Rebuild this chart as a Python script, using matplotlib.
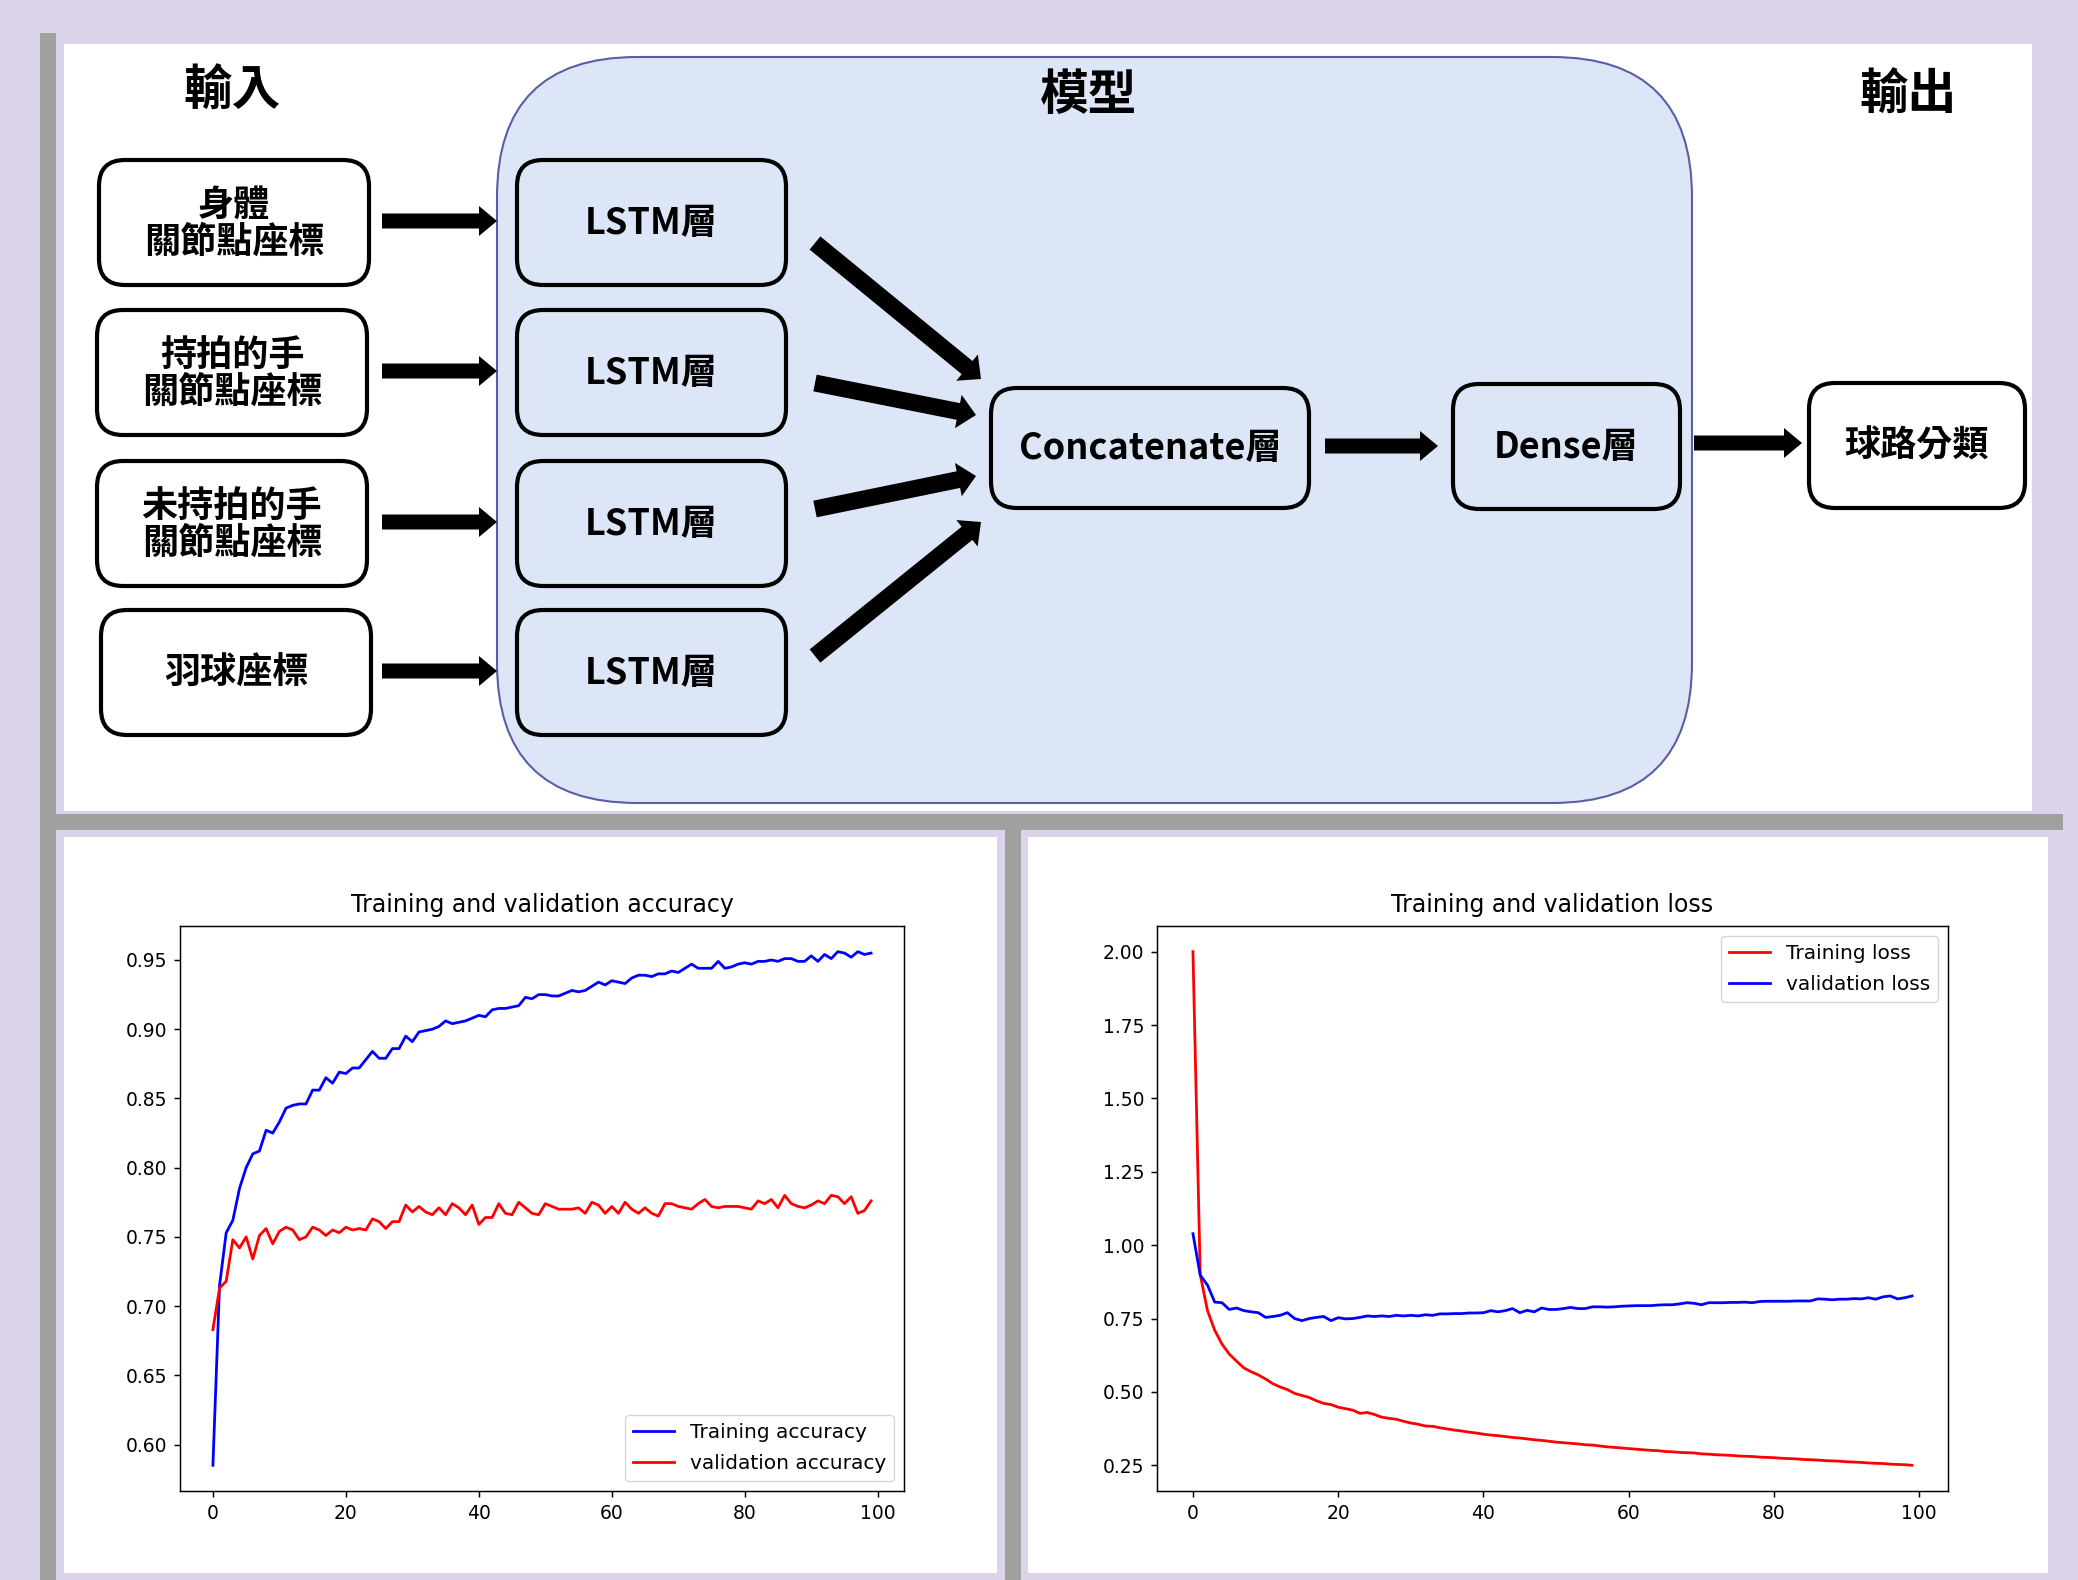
import matplotlib
matplotlib.use('Agg')
import matplotlib.pyplot as plt
from matplotlib.patches import FancyBboxPatch, Rectangle
import numpy as np

W, H = 2078, 1580
S = 1.33  # the training plots are a default matplotlib figure blown up by ~1.33

# ---- data ----
epochs = np.arange(100)

train_acc = [0.585, 0.715, 0.753, 0.762, 0.785, 0.800, 0.810, 0.812, 0.827, 0.825,
             0.833, 0.843, 0.845, 0.846, 0.846, 0.856, 0.856, 0.865, 0.861, 0.869,
             0.868, 0.872, 0.872, 0.878, 0.884, 0.879, 0.879, 0.886, 0.886, 0.895,
             0.891, 0.898, 0.899, 0.900, 0.902, 0.906, 0.904, 0.905, 0.906, 0.908,
             0.910, 0.909, 0.914, 0.915, 0.915, 0.916, 0.917, 0.923, 0.922, 0.925,
             0.925, 0.924, 0.924, 0.926, 0.928, 0.927, 0.928, 0.931, 0.934, 0.932,
             0.935, 0.934, 0.933, 0.937, 0.939, 0.939, 0.938, 0.940, 0.940, 0.942,
             0.941, 0.944, 0.947, 0.944, 0.944, 0.944, 0.949, 0.944, 0.945, 0.947,
             0.948, 0.947, 0.949, 0.949, 0.950, 0.949, 0.951, 0.951, 0.949, 0.949,
             0.953, 0.949, 0.954, 0.951, 0.956, 0.955, 0.952, 0.956, 0.954, 0.955]

val_acc = [0.683, 0.713, 0.718, 0.748, 0.742, 0.750, 0.734, 0.751, 0.756, 0.745,
           0.754, 0.757, 0.755, 0.748, 0.750, 0.757, 0.755, 0.751, 0.755, 0.753,
           0.757, 0.755, 0.756, 0.755, 0.763, 0.761, 0.756, 0.761, 0.761, 0.773,
           0.768, 0.772, 0.768, 0.766, 0.771, 0.766, 0.774, 0.771, 0.766, 0.773,
           0.759, 0.764, 0.764, 0.774, 0.767, 0.766, 0.775, 0.771, 0.767, 0.766,
           0.774, 0.772, 0.770, 0.770, 0.770, 0.771, 0.767, 0.775, 0.773, 0.767,
           0.772, 0.767, 0.775, 0.770, 0.767, 0.771, 0.767, 0.765, 0.774, 0.774,
           0.772, 0.771, 0.770, 0.774, 0.777, 0.772, 0.771, 0.772, 0.772, 0.772,
           0.771, 0.770, 0.776, 0.774, 0.777, 0.771, 0.780, 0.774, 0.772, 0.771,
           0.773, 0.776, 0.774, 0.780, 0.779, 0.774, 0.779, 0.767, 0.769, 0.776]

train_loss = [2.000, 0.900, 0.777, 0.710, 0.663, 0.629, 0.605, 0.582, 0.569, 0.558,
              0.544, 0.528, 0.517, 0.508, 0.495, 0.488, 0.481, 0.470, 0.461, 0.457,
              0.448, 0.443, 0.438, 0.427, 0.430, 0.423, 0.414, 0.410, 0.407, 0.400,
              0.394, 0.390, 0.384, 0.383, 0.378, 0.374, 0.370, 0.367, 0.363, 0.360,
              0.356, 0.353, 0.351, 0.348, 0.345, 0.343, 0.340, 0.337, 0.335, 0.332,
              0.329, 0.327, 0.325, 0.323, 0.320, 0.319, 0.316, 0.313, 0.311, 0.309,
              0.307, 0.305, 0.303, 0.301, 0.300, 0.297, 0.296, 0.294, 0.293, 0.292,
              0.289, 0.288, 0.286, 0.285, 0.284, 0.282, 0.281, 0.280, 0.278, 0.277,
              0.276, 0.274, 0.273, 0.272, 0.270, 0.269, 0.268, 0.266, 0.265, 0.264,
              0.262, 0.261, 0.260, 0.258, 0.257, 0.256, 0.254, 0.253, 0.252, 0.250]

val_loss = [1.039, 0.898, 0.864, 0.806, 0.804, 0.781, 0.786, 0.777, 0.773, 0.770,
            0.754, 0.757, 0.761, 0.770, 0.750, 0.743, 0.750, 0.754, 0.757, 0.743,
            0.753, 0.749, 0.750, 0.754, 0.759, 0.757, 0.759, 0.757, 0.761, 0.759,
            0.761, 0.759, 0.763, 0.761, 0.766, 0.766, 0.767, 0.767, 0.769, 0.769,
            0.770, 0.777, 0.773, 0.777, 0.784, 0.770, 0.778, 0.773, 0.786, 0.781,
            0.781, 0.784, 0.788, 0.784, 0.784, 0.790, 0.790, 0.789, 0.790, 0.792,
            0.793, 0.794, 0.794, 0.794, 0.796, 0.797, 0.797, 0.800, 0.804, 0.802,
            0.797, 0.804, 0.804, 0.804, 0.805, 0.805, 0.806, 0.804, 0.808, 0.809,
            0.809, 0.809, 0.809, 0.810, 0.810, 0.810, 0.817, 0.816, 0.814, 0.816,
            0.816, 0.818, 0.817, 0.821, 0.816, 0.824, 0.827, 0.817, 0.821, 0.827]

# ---- diagram text ----
headers = ['輸入', '模型', '輸出']
input_labels = ['身體\n關節點座標', '持拍的手\n關節點座標', '未持拍的手\n關節點座標', '羽球座標']
lstm_label = 'LSTM層'
concat_label = 'Concatenate層'
dense_label = 'Dense層'
output_label = '球路分類'

acc_title = 'Training and validation accuracy'
loss_title = 'Training and validation loss'

# ---- colours ----
LAVENDER = '#dbd3ea'
GRAY = '#a0a0a0'
MODEL_FILL = '#dde6f7'
MODEL_EDGE = '#5b5ea6'
CJK = ['Noto Sans CJK TC', 'DejaVu Sans']

fig = plt.figure(figsize=(W / 100, H / 100), dpi=100, facecolor=LAVENDER)
bg = fig.add_axes([0, 0, 1, 1], zorder=0)
bg.set_xlim(0, W)
bg.set_ylim(H, 0)
bg.axis('off')

# frame: grey bars and white panels
for x, y, w, h in [(40, 33, 16, H - 33), (40, 814, 2023, 16), (1005, 814, 16, H - 814)]:
    bg.add_patch(Rectangle((x, y), w, h, color=GRAY, lw=0))
for x, y, w, h in [(64, 44, 1968, 767), (64, 837, 933, 736), (1028, 837, 1020, 736)]:
    bg.add_patch(Rectangle((x, y), w, h, color='white', lw=0))

# model container
bg.add_patch(FancyBboxPatch((497, 57), 1195, 746, boxstyle='round,pad=0,rounding_size=140',
                            fc=MODEL_FILL, ec=MODEL_EDGE, lw=1.5))


def box(x, y, w, h, label, fc='white', size=26):
    bg.add_patch(FancyBboxPatch((x, y), w, h, boxstyle='round,pad=0,rounding_size=26',
                                fc=fc, ec='black', lw=3))
    bg.text(x + w / 2, y + h / 2 + 1, label, ha='center', va='center', fontsize=size,
            fontweight='bold', family=CJK, linespacing=1.0)


def arrow(x0, y0, x1, y1, width=15):
    bg.arrow(x0, y0, x1 - x0, y1 - y0, width=width, head_width=width * 2, head_length=18,
             length_includes_head=True, fc='black', ec='black', lw=0)


# headers
for label, (hx, hy) in zip(headers, [(232, 91), (1089, 95), (1908, 95)]):
    bg.text(hx, hy, label, ha='center', va='center', fontsize=35, fontweight='bold', family=CJK)

rows_y = [160, 310, 461, 610]
in_x = [99, 97, 97, 101]
for label, x, y in zip(input_labels, in_x, rows_y):
    box(x, y, 270, 125, label)
    arrow(382, y + 61, 497, y + 61)
    box(517, y, 269, 125, lstm_label, fc=MODEL_FILL)

box(991, 388, 318, 120, concat_label, fc=MODEL_FILL)
box(1453, 384, 227, 125, dense_label, fc=MODEL_FILL)
box(1809, 383, 216, 125, output_label)

# LSTM -> Concatenate
for (x0, y0), (x1, y1) in [((815, 243), (981, 379)), ((815, 383), (976, 415)),
                           ((815, 509), (976, 476)), ((815, 656), (981, 522))]:
    arrow(x0, y0, x1, y1, width=17)
arrow(1325, 446, 1438, 446)
arrow(1694, 443, 1802, 443)


# ---- training plots ----
def style(ax, title):
    ax.set_title(title, fontsize=17, pad=10)
    ax.tick_params(labelsize=13.5, length=3.5 * S, width=0.8 * S, pad=3.5 * S)
    for sp in ax.spines.values():
        sp.set_linewidth(0.8 * S)


ax1 = fig.add_axes([180 / W, 1 - 1491 / H, 724 / W, 565 / H], zorder=1)
ax1.plot(epochs, train_acc, 'b', lw=1.5 * S, label='Training accuracy')
ax1.plot(epochs, val_acc, 'r', lw=1.5 * S, label='validation accuracy')
style(ax1, acc_title)
ax1.legend(loc='lower right', fontsize=14.5, labelspacing=0.6)

ax2 = fig.add_axes([1157 / W, 1 - 1491 / H, 791 / W, 565 / H], zorder=1)
ax2.plot(epochs, train_loss, 'r', lw=1.5 * S, label='Training loss')
ax2.plot(epochs, val_loss, 'b', lw=1.5 * S, label='validation loss')
style(ax2, loss_title)
ax2.legend(loc='upper right', fontsize=14.5, labelspacing=0.6)

fig.savefig('out.png', dpi=100, facecolor=LAVENDER)
